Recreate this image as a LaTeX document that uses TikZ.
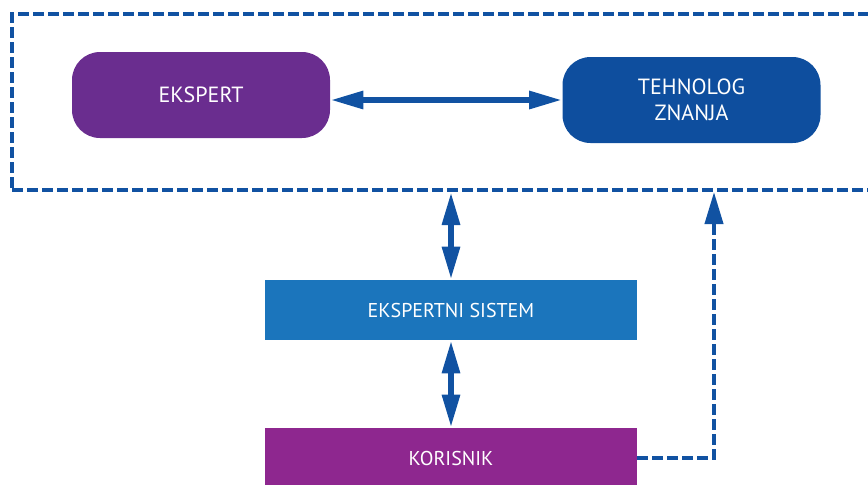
\documentclass[tikz,border=0pt]{standalone}
\usepackage{fontspec}
\setsansfont{PT Sans}
\usepackage{tikz}
\usetikzlibrary{arrows.meta}

\definecolor{ljubicasta}{HTML}{6A2D8F}
\definecolor{tamnoplava}{HTML}{0E4E9E}
\definecolor{plava}{HTML}{1B75BC}
\definecolor{magenta}{HTML}{8E278F}
\definecolor{linija}{HTML}{1152A2}

\begin{document}
\begin{tikzpicture}[x=0.5pt, y=-0.5pt, font=\sffamily,
		uloga/.style={rounded corners=14pt, text=white, align=center,
			font=\sffamily\fontsize{11}{13}\selectfont,
			minimum width=129pt, minimum height=43pt},
		blok/.style={text=white, font=\sffamily\fontsize{10}{12}\selectfont,
			minimum width=186pt, minimum height=30pt},
		veza/.style={linija, line width=3pt,
			{Triangle[length=16.5pt,width=8.5pt]}-{Triangle[length=16.5pt,width=8.5pt]}},
		crtkano/.style={linija, line width=2pt, dash pattern=on 5.5pt off 2pt}]
		\useasboundingbox (0,0) rectangle (868,484);
		
		% okvir oko eksperta i tehnologa
		\node[crtkano, draw, minimum width=436.5pt, minimum height=88pt] (tim) at (448.5,102) {};
		
		\node[uloga, fill=ljubicasta] (ekspert) at (201,95) {EKSPERT};
		\node[uloga, fill=tamnoplava] (tehnolog) at (691.5,100) {TEHNOLOG\\ZNANJA};
		\draw[veza] (ekspert.east |- 0,100) -- (tehnolog.west);
		
		\node[blok, fill=plava] (sistem) at (451,310) {EKSPERTNI SISTEM};
		\node[blok, fill=magenta] (korisnik) at (451,458) {KORISNIK};
		
		\draw[veza] (tim.south -| sistem) -- (sistem.north);
		\draw[veza] (sistem.south) -- (korisnik.north);
		
		%\node at (714,458) {};
		\coordinate (ugao) at (714,458);
		\draw[crtkano, -{Triangle[length=16pt,width=9pt]}] (korisnik.east) -- (ugao) -- (ugao |- tim.south);
	\end{tikzpicture}
\end{document}
